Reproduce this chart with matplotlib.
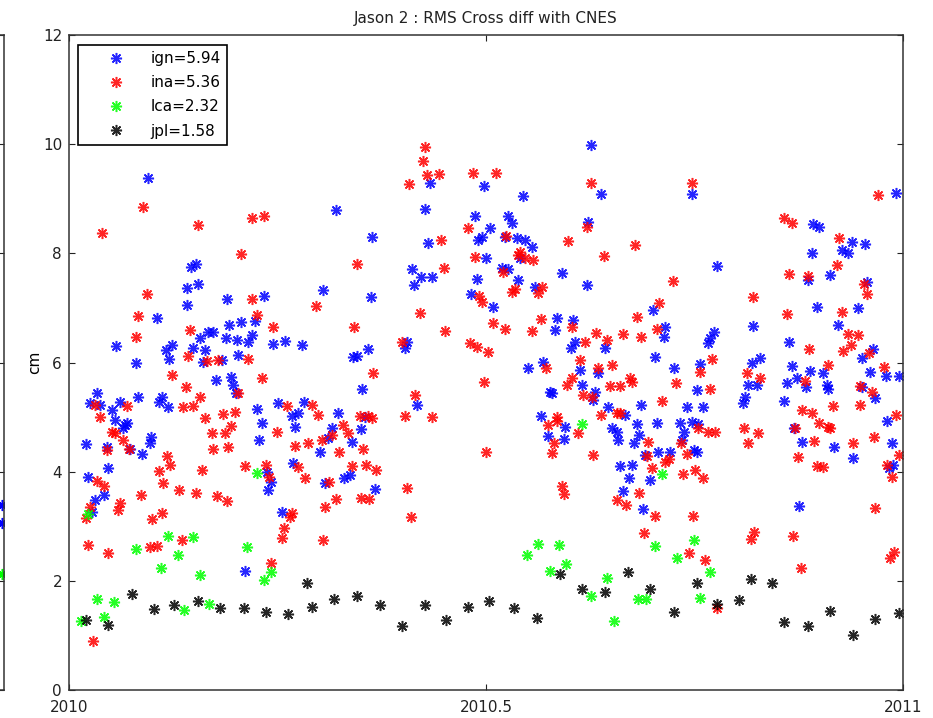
import numpy as np
import matplotlib
matplotlib.use("Agg")
import matplotlib.pyplot as plt

# (day of 2010, cm)
ign = [
    (34.4, 9.39), (53.4, 7.75), (55.6, 7.80), (51.6, 7.37), (56.5, 7.44), (51.6, 7.05), (69.1, 7.16), (85.3, 7.22),
    (38.5, 6.82), (20.6, 6.30), (29.3, 5.99), (42.4, 6.23), (45.1, 6.32), (43.8, 6.06), (54.3, 6.27), (57.3, 6.45),
    (60.8, 6.56), (63.0, 6.56), (59.5, 6.23), (58.6, 6.01), (67.0, 6.05), (68.7, 6.45), (70.0, 6.69), (75.3, 6.74),
    (73.5, 6.41), (74.0, 6.14), (78.3, 6.37), (80.1, 6.50), (81.4, 6.76), (89.3, 6.34), (64.3, 5.68), (70.9, 5.73),
    (71.8, 5.59), (73.1, 5.44), (12.3, 5.44), (9.2, 5.26), (13.6, 5.22), (18.8, 5.13), (22.3, 5.28), (30.2, 5.37),
    (40.7, 5.37), (39.4, 5.28), (43.3, 5.19), (82.3, 5.15), (91.5, 5.26),
    (24.5, 4.86), (23.6, 4.80), (25.4, 4.89), (20.1, 4.95), (7.4, 4.51), (16.6, 4.45), (26.7, 4.42), (31.9, 4.32),
    (35.9, 4.64), (35.4, 4.53), (17.1, 4.07), (8.3, 3.90), (15.3, 3.57), (11.4, 3.48), (10.1, 3.26), (84.5, 4.89),
    (83.1, 4.58), (86.6, 3.99), (88.4, 3.81), (87.1, 3.66), (77.0, 2.18), (93.2, 3.26),
    (158.0, 9.29), (181.6, 9.23), (116.8, 8.79), (155.8, 8.81), (177.7, 8.68), (132.6, 8.30), (180.7, 8.30),
    (179.0, 8.24), (157.1, 8.19), (182.5, 7.91), (150.1, 7.71), (154.0, 7.57), (158.8, 7.57), (151.0, 7.42),
    (178.5, 7.53), (175.9, 7.26), (111.2, 7.33), (132.2, 7.20), (94.5, 6.39), (102.0, 6.32), (126.0, 6.12),
    (124.3, 6.10), (130.8, 6.25), (147.9, 6.38), (147.0, 6.27), (128.2, 5.51), (152.3, 5.22), (102.8, 5.28),
    (97.6, 5.02), (100.2, 5.07), (117.7, 5.07), (129.5, 5.00),
    (98.9, 4.82), (115.1, 4.80), (113.3, 4.62), (123.8, 4.54), (127.8, 4.78), (109.8, 4.36), (98.0, 4.16),
    (112.0, 3.79), (120.3, 3.88), (123.0, 3.94), (133.9, 3.68),
    (228.4, 9.99), (198.7, 9.05), (232.8, 9.09), (272.6, 9.09), (192.1, 8.68), (193.9, 8.56), (227.1, 8.57),
    (184.2, 8.46), (190.8, 8.30), (196.0, 8.28), (199.5, 8.24), (202.6, 8.12), (197.4, 7.91), (189.5, 7.73),
    (192.1, 7.71), (215.7, 7.64), (196.5, 7.51), (203.9, 7.38), (226.7, 7.42), (185.5, 7.02), (213.5, 6.82),
    (212.7, 6.60), (220.5, 6.78), (221.4, 6.38), (219.7, 6.27), (234.6, 6.27), (255.6, 6.96), (260.8, 6.65),
    (260.4, 6.47), (256.4, 6.10), (200.9, 5.90), (207.4, 6.01), (264.7, 5.90), (223.6, 5.86), (231.5, 5.81),
    (224.5, 5.59), (210.5, 5.46), (211.4, 5.44), (230.2, 5.46), (229.3, 5.31), (235.9, 5.19), (250.3, 5.22),
    (270.4, 5.19), (206.5, 5.02), (243.3, 5.04), (274.8, 5.50),
    (257.3, 4.89), (248.6, 4.87), (267.4, 4.89), (272.6, 4.91), (217.0, 4.82), (209.6, 4.65), (216.6, 4.60),
    (237.6, 4.80), (239.8, 4.73), (240.2, 4.58), (249.4, 4.67), (247.2, 4.53), (269.1, 4.73), (268.2, 4.58),
    (257.7, 4.36), (263.0, 4.36), (273.5, 4.40), (252.1, 4.31), (241.1, 4.10), (246.4, 4.12), (245.1, 3.88),
    (254.2, 3.85), (242.4, 3.65), (251.2, 3.32), (275.3, 4.88),
    (361.9, 9.11), (325.6, 8.54), (328.2, 8.48), (342.6, 8.21), (348.3, 8.17), (338.3, 8.06), (340.9, 8.01),
    (325.1, 8.01), (283.6, 7.77), (333.0, 7.60), (323.4, 7.51), (349.2, 7.47), (327.3, 7.02), (345.3, 7.00),
    (336.5, 6.69), (299.3, 6.67), (315.1, 6.38), (282.3, 6.56), (280.5, 6.45), (279.6, 6.36), (351.8, 6.25),
    (302.4, 6.08), (298.9, 5.99), (276.1, 5.97), (347.0, 6.08), (316.4, 5.93), (324.3, 5.84), (330.0, 5.81),
    (350.5, 5.83), (357.5, 5.75), (363.2, 5.75), (297.1, 5.59), (301.1, 5.59), (314.2, 5.62), (318.6, 5.72),
    (322.5, 5.55), (331.7, 5.59), (332.1, 5.51), (352.7, 5.35), (347.0, 5.55), (295.8, 5.37), (294.9, 5.26),
    (312.9, 5.29), (277.4, 5.19), (358.0, 4.93),
    (274.8, 4.36), (317.3, 4.80), (320.8, 4.54), (334.8, 4.45), (343.1, 4.25), (360.1, 4.53), (360.6, 4.12),
    (358.8, 4.07), (319.4, 3.37),
]

ina = [
    (32.4, 8.85), (14.4, 8.37), (56.5, 8.52), (80.1, 8.65), (85.3, 8.68), (75.3, 7.99), (34.1, 7.26), (30.2, 6.85),
    (29.3, 6.47), (53.0, 6.60), (52.1, 6.12), (60.4, 6.03), (65.2, 6.05), (78.3, 6.06), (80.1, 7.16), (82.3, 6.87),
    (89.3, 6.65), (45.1, 5.77), (51.2, 5.55), (57.3, 5.37), (74.0, 5.44), (84.5, 5.72), (11.4, 5.22), (25.4, 5.20),
    (49.9, 5.19), (54.3, 5.20), (13.6, 5.00), (59.5, 4.98), (67.4, 5.06), (72.6, 5.09),
    (18.8, 4.73), (20.1, 4.71), (23.6, 4.58), (26.3, 4.42), (16.6, 4.40), (62.6, 4.71), (68.3, 4.71), (70.9, 4.84),
    (63.0, 4.42), (69.6, 4.45), (42.9, 4.29), (44.2, 4.12), (39.4, 4.01), (58.2, 4.03), (41.1, 3.79), (77.0, 4.10),
    (86.2, 4.12), (87.5, 3.90), (91.0, 4.73), (12.3, 3.83), (15.3, 3.74), (31.5, 3.57), (48.1, 3.66), (55.6, 3.61),
    (64.8, 3.55), (69.1, 3.46), (22.3, 3.43), (21.4, 3.30), (40.7, 3.24), (36.3, 3.13), (7.4, 3.15), (9.2, 3.35),
    (8.3, 2.66), (17.1, 2.51), (35.4, 2.62), (38.5, 2.64), (49.4, 2.75), (88.4, 2.33), (10.5, 0.90),
    (155.8, 9.95), (154.9, 9.69), (156.7, 9.44), (161.9, 9.45), (148.8, 9.27), (176.8, 9.47), (174.6, 8.46),
    (162.8, 8.24), (177.7, 7.93), (164.1, 7.73), (126.0, 7.80), (108.1, 7.04), (153.6, 6.91), (179.4, 7.22),
    (180.7, 7.11), (124.7, 6.65), (164.5, 6.58), (175.5, 6.36), (178.5, 6.28), (145.7, 6.38), (133.0, 5.81),
    (181.6, 5.64), (151.4, 5.40), (95.4, 5.20), (106.3, 5.22), (109.0, 5.04), (127.3, 5.02), (130.8, 5.02),
    (147.0, 5.02), (158.8, 5.00),
    (98.9, 4.47), (104.6, 4.53), (110.7, 4.58), (115.1, 4.67), (119.9, 4.86), (122.1, 4.71), (118.2, 4.36),
    (128.7, 4.42), (132.6, 4.98), (100.2, 4.09), (103.3, 3.88), (123.8, 4.10), (130.0, 4.12), (134.3, 4.03),
    (113.8, 3.81), (116.8, 3.50), (112.0, 3.35), (127.8, 3.52), (131.3, 3.50), (97.6, 3.24), (96.7, 3.17),
    (94.1, 2.97), (93.2, 2.78), (111.2, 2.75), (147.9, 3.70), (149.7, 3.17), (182.5, 4.36),
    (186.9, 9.47), (228.4, 9.29), (272.6, 9.29), (191.2, 8.32), (226.7, 8.48), (218.4, 8.23), (247.7, 8.15),
    (234.1, 7.95), (197.4, 8.02), (196.5, 7.97), (199.5, 7.91), (203.0, 7.88), (189.9, 7.66), (193.9, 7.29),
    (195.2, 7.35), (207.0, 7.38), (205.2, 7.27), (264.3, 7.49), (258.2, 7.09), (248.6, 6.83), (185.5, 6.72),
    (190.8, 6.61), (206.5, 6.80), (202.6, 6.58), (220.1, 6.65), (225.8, 6.38), (230.6, 6.54), (235.4, 6.41),
    (242.4, 6.52), (250.3, 6.47), (257.3, 6.61), (183.4, 6.19), (208.7, 5.90), (223.6, 6.05), (231.5, 5.90),
    (237.6, 5.95), (245.5, 5.72), (246.4, 5.64), (217.9, 5.59), (220.1, 5.72), (224.9, 5.40), (228.9, 5.37),
    (236.7, 5.57), (241.1, 5.57), (265.6, 5.62), (259.5, 5.29), (232.8, 5.04), (239.8, 5.07), (241.1, 5.07),
    (213.5, 5.00),
    (209.6, 4.86), (213.5, 4.93), (222.7, 4.71), (212.2, 4.53), (211.4, 4.34), (229.3, 4.31), (253.4, 4.54),
    (252.9, 4.29), (255.1, 4.07), (260.8, 4.18), (262.6, 4.23), (268.7, 3.96), (273.9, 4.03), (267.8, 4.53),
    (270.4, 4.32), (275.3, 4.80), (249.4, 3.61), (239.8, 3.48), (243.7, 3.39), (215.7, 3.74), (216.6, 3.59),
    (256.4, 3.19), (273.1, 3.19), (251.6, 2.88), (271.3, 2.51),
    (354.0, 9.07), (312.9, 8.65), (316.4, 8.56), (337.0, 8.28), (336.1, 7.79), (315.1, 7.62), (323.4, 7.58),
    (347.9, 7.44), (349.2, 7.26), (299.3, 7.20), (314.2, 6.89), (338.3, 6.93), (340.9, 6.52), (345.3, 6.50),
    (342.2, 6.32), (338.7, 6.21), (323.8, 6.25), (350.1, 6.17), (281.4, 6.06), (276.1, 5.83), (332.1, 5.95),
    (356.6, 5.92), (296.7, 5.81), (302.4, 5.72), (322.1, 5.66), (280.5, 5.51), (346.1, 5.57), (351.4, 5.46),
    (334.3, 5.20), (346.1, 5.22), (320.8, 5.13), (325.1, 5.07), (361.9, 5.04),
    (279.6, 4.73), (282.7, 4.73), (295.4, 4.80), (301.5, 4.71), (297.1, 4.53), (317.7, 4.80), (328.2, 4.89),
    (332.1, 4.82), (333.0, 4.80), (326.0, 4.56), (343.1, 4.53), (352.3, 4.64), (363.2, 4.31), (319.0, 4.27),
    (327.3, 4.10), (330.0, 4.09), (358.0, 4.12), (360.1, 3.90), (277.4, 3.88), (352.7, 3.33), (299.8, 2.89),
    (298.4, 2.77), (316.8, 2.82), (320.3, 2.24), (278.3, 2.38), (283.6, 1.50), (361.0, 2.53), (359.3, 2.42),
]

lca = [
    (5.3, 1.26), (8.3, 3.22), (12.3, 1.67), (15.3, 1.34), (19.7, 1.61), (29.3, 2.58), (40.3, 2.23), (43.3, 2.82),
    (47.7, 2.47), (50.3, 1.47), (54.3, 2.80), (57.3, 2.11), (61.3, 1.58), (77.9, 2.62), (82.3, 3.98), (85.3, 2.01),
    (88.4, 2.16), (200.4, 2.47), (205.2, 2.67), (210.5, 2.18), (214.4, 2.66), (217.5, 2.31), (224.5, 4.87),
    (228.4, 1.72), (235.4, 2.05), (238.5, 1.26), (249.0, 1.67), (252.5, 1.67), (256.4, 2.64), (259.5, 3.96),
    (266.1, 2.42), (273.5, 2.75), (276.1, 1.69), (280.5, 2.16),
]

jpl = [
    (7.3, 1.28), (17.1, 1.19), (27.6, 1.76), (37.2, 1.48), (45.9, 1.56), (56.5, 1.63), (66.1, 1.50), (76.6, 1.50),
    (86.2, 1.43), (95.8, 1.39), (104.1, 1.96), (106.3, 1.52), (116.0, 1.67), (126.0, 1.72), (136.1, 1.56),
    (145.7, 1.17), (155.8, 1.56), (165.0, 1.28), (174.6, 1.52), (183.8, 1.63), (194.7, 1.50), (204.8, 1.32),
    (214.9, 2.13), (224.5, 1.85), (234.6, 1.80), (244.6, 2.16), (254.2, 1.85), (264.7, 1.43), (274.8, 1.96),
    (283.6, 1.58), (293.2, 1.65), (298.4, 2.03), (307.6, 1.96), (312.9, 1.25), (323.4, 1.17), (333.0, 1.45),
    (343.1, 1.01), (352.7, 1.30), (363.2, 1.41),
]

# bits of the neighbouring panel that show at the left edge
left_ign = [3.39, 3.06]
left_lca = [2.13]

labels = ["ign=5.94", "ina=5.36", "lca=2.32", "jpl=1.58"]
colors = ["#0000ff", "#ff0000", "#00ff00", "#000000"]
series = [ign, ina, lca, jpl]

xticks = [2010, 2010.5, 2011]
xticklabels = ["2010", "2010.5", "2011"]
yticks = [0, 2, 4, 6, 8, 10, 12]

plt.rcParams["font.family"] = "DejaVu Sans"
plt.rcParams["font.size"] = 11

fig = plt.figure(figsize=(9.33, 7.18), dpi=100)
star = (8, 2, 0)


def style_axes(ax):
    ax.tick_params(direction="in", top=True, right=True, length=4.5, width=0.8,
                   labelsize=11, colors="#222222", pad=5)
    ax.tick_params(axis="x", pad=7)
    for s in ax.spines.values():
        s.set_linewidth(1.1)
        s.set_color("#333333")


# partial neighbouring panel, only its right edge is inside the figure
axl = fig.add_axes([-0.9, 0.039, 0.9043, 0.912])
axl.plot([2009.998] * len(left_ign), left_ign, linestyle="none", marker=star,
         color=colors[0], ms=8, mew=1.1)
axl.plot([2009.998] * len(left_lca), left_lca, linestyle="none", marker=star,
         color=colors[2], ms=8, mew=1.1)
axl.set_xlim(2009, 2010)
axl.set_ylim(0, 12)
axl.set_yticks(yticks)
axl.set_xticks([2009.5])
style_axes(axl)
axl.tick_params(labelleft=False, labelbottom=False)

ax = fig.add_axes([0.074, 0.039, 0.894, 0.912])
for pts, lab, col in zip(series, labels, colors):
    arr = np.array(pts)
    ax.plot(2010 + arr[:, 0] / 365.0, arr[:, 1], linestyle="none", marker=star,
            color=col, ms=8, mew=1.1, label=lab, alpha=0.85)

ax.set_xlim(2010, 2011)
ax.set_ylim(0, 12)
ax.set_xticks(xticks)
ax.set_xticklabels(xticklabels)
ax.set_yticks(yticks)
style_axes(ax)
ax.set_ylabel("cm", fontsize=11, labelpad=0.5)
ax.set_title("Jason 2 : RMS Cross diff with CNES", fontsize=11, pad=9, color="#222222")

leg = ax.legend(loc="upper left", bbox_to_anchor=(0.011, 0.985), borderaxespad=0,
                fancybox=False, edgecolor="black", framealpha=1, fontsize=11,
                numpoints=1, handlelength=4.2, handletextpad=0.15, labelspacing=0.6,
                borderpad=0.4)
leg.get_frame().set_linewidth(1.2)

fig.savefig("out.png", dpi=100)
